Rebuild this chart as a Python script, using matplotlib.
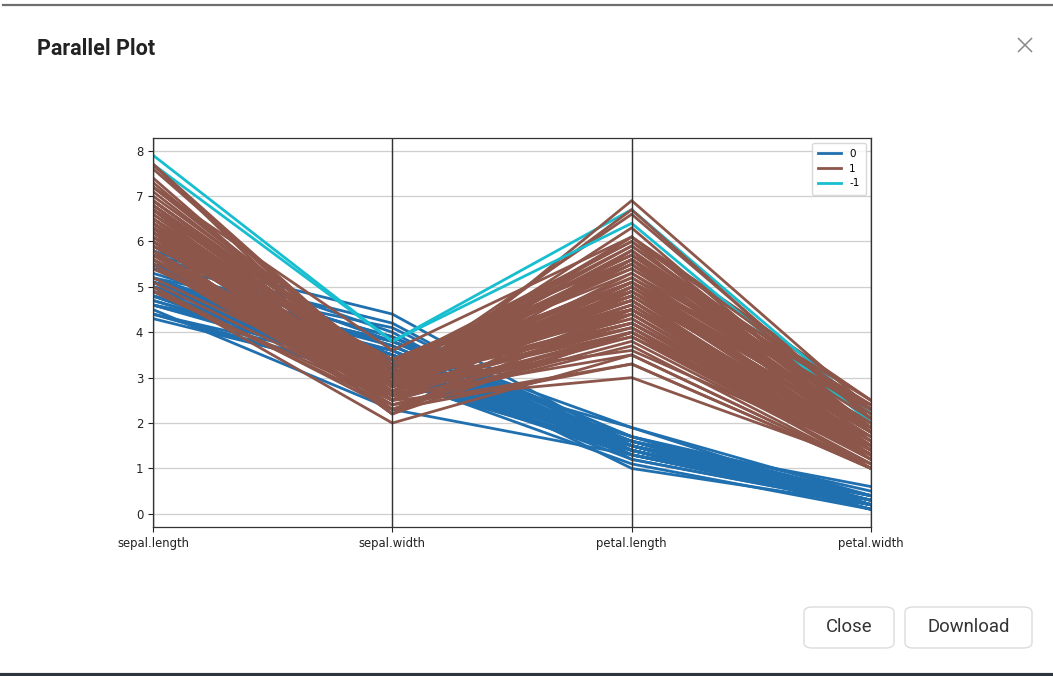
import matplotlib
matplotlib.use("Agg")
import matplotlib.pyplot as plt
from matplotlib.patches import FancyBboxPatch
from matplotlib.lines import Line2D
import pandas as pd
from pandas.plotting import parallel_coordinates

# Iris measurements (150 flowers) and the group label assigned to each one
sepal_length = [
    5.1, 4.9, 4.7, 4.6, 5.0, 5.4, 4.6, 5.0, 4.4, 4.9, 5.4, 4.8, 4.8, 4.3, 5.8, 5.7, 5.4, 5.1, 5.7, 5.1,
    5.4, 5.1, 4.6, 5.1, 4.8, 5.0, 5.0, 5.2, 5.2, 4.7, 4.8, 5.4, 5.2, 5.5, 4.9, 5.0, 5.5, 4.9, 4.4, 5.1,
    5.0, 4.5, 4.4, 5.0, 5.1, 4.8, 5.1, 4.6, 5.3, 5.0,
    7.0, 6.4, 6.9, 5.5, 6.5, 5.7, 6.3, 4.9, 6.6, 5.2, 5.0, 5.9, 6.0, 6.1, 5.6, 6.7, 5.6, 5.8, 6.2, 5.6,
    5.9, 6.1, 6.3, 6.1, 6.4, 6.6, 6.8, 6.7, 6.0, 5.7, 5.5, 5.5, 5.8, 6.0, 5.4, 6.0, 6.7, 6.3, 5.6, 5.5,
    5.5, 6.1, 5.8, 5.0, 5.6, 5.7, 5.7, 6.2, 5.1, 5.7,
    6.3, 5.8, 7.1, 6.3, 6.5, 7.6, 4.9, 7.3, 6.7, 7.2, 6.5, 6.4, 6.8, 5.7, 5.8, 6.4, 6.5, 7.7, 7.7, 6.0,
    6.9, 5.6, 7.7, 6.3, 6.7, 7.2, 6.2, 6.1, 6.4, 7.2, 7.4, 7.9, 6.4, 6.3, 6.1, 7.7, 6.3, 6.4, 6.0, 6.9,
    6.7, 6.9, 5.8, 6.8, 6.7, 6.7, 6.3, 6.5, 6.2, 5.9,
]
sepal_width = [
    3.5, 3.0, 3.2, 3.1, 3.6, 3.9, 3.4, 3.4, 2.9, 3.1, 3.7, 3.4, 3.0, 3.0, 4.0, 4.4, 3.9, 3.5, 3.8, 3.8,
    3.4, 3.7, 3.6, 3.3, 3.4, 3.0, 3.4, 3.5, 3.4, 3.2, 3.1, 3.4, 4.1, 4.2, 3.1, 3.2, 3.5, 3.6, 3.0, 3.4,
    3.5, 2.3, 3.2, 3.5, 3.8, 3.0, 3.8, 3.2, 3.7, 3.3,
    3.2, 3.2, 3.1, 2.3, 2.8, 2.8, 3.3, 2.4, 2.9, 2.7, 2.0, 3.0, 2.2, 2.9, 2.9, 3.1, 3.0, 2.7, 2.2, 2.5,
    3.2, 2.8, 2.5, 2.8, 2.9, 3.0, 2.8, 3.0, 2.9, 2.6, 2.4, 2.4, 2.7, 2.7, 3.0, 3.4, 3.1, 2.3, 3.0, 2.5,
    2.6, 3.0, 2.6, 2.3, 2.7, 3.0, 2.9, 2.9, 2.5, 2.8,
    3.3, 2.7, 3.0, 2.9, 3.0, 3.0, 2.5, 2.9, 2.5, 3.6, 3.2, 2.7, 3.0, 2.5, 2.8, 3.2, 3.0, 3.8, 2.6, 2.2,
    3.2, 2.8, 2.8, 2.7, 3.3, 3.2, 2.8, 3.0, 2.8, 3.0, 2.8, 3.8, 2.8, 2.8, 2.6, 3.0, 3.4, 3.1, 3.0, 3.1,
    3.1, 3.1, 2.7, 3.2, 3.3, 3.0, 2.5, 3.0, 3.4, 3.0,
]
petal_length = [
    1.4, 1.4, 1.3, 1.5, 1.4, 1.7, 1.4, 1.5, 1.4, 1.5, 1.5, 1.6, 1.4, 1.1, 1.2, 1.5, 1.3, 1.4, 1.7, 1.5,
    1.7, 1.5, 1.0, 1.7, 1.9, 1.6, 1.6, 1.5, 1.4, 1.6, 1.6, 1.5, 1.5, 1.4, 1.5, 1.2, 1.3, 1.4, 1.3, 1.5,
    1.3, 1.3, 1.3, 1.6, 1.9, 1.4, 1.6, 1.4, 1.5, 1.4,
    4.7, 4.5, 4.9, 4.0, 4.6, 4.5, 4.7, 3.3, 4.6, 3.9, 3.5, 4.2, 4.0, 4.7, 3.6, 4.4, 4.5, 4.1, 4.5, 3.9,
    4.8, 4.0, 4.9, 4.7, 4.3, 4.4, 4.8, 5.0, 4.5, 3.5, 3.8, 3.7, 3.9, 5.1, 4.5, 4.5, 4.7, 4.4, 4.1, 4.0,
    4.4, 4.6, 4.0, 3.3, 4.2, 4.2, 4.2, 4.3, 3.0, 4.1,
    6.0, 5.1, 5.9, 5.6, 5.8, 6.6, 4.5, 6.3, 5.8, 6.1, 5.1, 5.3, 5.5, 5.0, 5.1, 5.3, 5.5, 6.7, 6.9, 5.0,
    5.7, 4.9, 6.7, 4.9, 5.7, 6.0, 4.8, 4.9, 5.6, 5.8, 6.1, 6.4, 5.6, 5.1, 5.6, 6.1, 5.6, 5.5, 4.8, 5.4,
    5.6, 5.1, 5.1, 5.9, 5.7, 5.2, 5.0, 5.2, 5.4, 5.1,
]
petal_width = [
    0.2, 0.2, 0.2, 0.2, 0.2, 0.4, 0.3, 0.2, 0.2, 0.1, 0.2, 0.2, 0.1, 0.1, 0.2, 0.4, 0.4, 0.3, 0.3, 0.3,
    0.2, 0.4, 0.2, 0.5, 0.2, 0.2, 0.4, 0.2, 0.2, 0.2, 0.2, 0.4, 0.1, 0.2, 0.2, 0.2, 0.2, 0.1, 0.2, 0.2,
    0.3, 0.3, 0.2, 0.6, 0.4, 0.3, 0.2, 0.2, 0.2, 0.2,
    1.4, 1.5, 1.5, 1.3, 1.5, 1.3, 1.6, 1.0, 1.3, 1.4, 1.0, 1.5, 1.0, 1.4, 1.3, 1.4, 1.5, 1.0, 1.5, 1.1,
    1.8, 1.3, 1.5, 1.2, 1.3, 1.4, 1.4, 1.7, 1.5, 1.0, 1.1, 1.0, 1.2, 1.6, 1.5, 1.6, 1.5, 1.3, 1.3, 1.3,
    1.2, 1.4, 1.2, 1.0, 1.3, 1.2, 1.3, 1.3, 1.1, 1.3,
    2.5, 1.9, 2.1, 1.8, 2.2, 2.1, 1.7, 1.8, 1.8, 2.5, 2.0, 1.9, 2.1, 2.0, 2.4, 2.3, 1.8, 2.2, 2.3, 1.5,
    2.3, 2.0, 2.0, 1.8, 2.1, 1.8, 1.8, 1.8, 2.1, 1.6, 1.9, 2.0, 2.2, 1.5, 1.4, 2.3, 2.4, 1.8, 1.8, 2.1,
    2.4, 2.3, 1.9, 2.3, 2.5, 2.3, 1.9, 2.0, 2.3, 1.8,
]
labels = [0] * 50 + [1] * 67 + [-1] + [1] * 13 + [-1] + [1] * 18

group_colors = ["#2070b0", "#8c564b", "#17becf"]

df = pd.DataFrame({
    "sepal.length": sepal_length,
    "sepal.width": sepal_width,
    "petal.length": petal_length,
    "petal.width": petal_width,
    "label": labels,
})

W, H = 1053, 676
fig = plt.figure(figsize=(W / 100, H / 100), dpi=100)
fig.patch.set_facecolor("white")


def px_rect(x0, y0, x1, y1):
    return [x0 / W, 1 - y1 / H, (x1 - x0) / W, (y1 - y0) / H]


ax = fig.add_axes(px_rect(153, 137.5, 871, 527))
parallel_coordinates(df, "label", color=group_colors, ax=ax, linewidth=2.0)
# soften the vertical axis rules drawn by pandas
for ln in ax.lines:
    if ln.get_color() == "black":
        ln.set_color("#333333")
ax.set_ylim(-0.29, 8.29)
ax.tick_params(labelsize=8.4, colors="#222222", length=3.5, width=0.8)
for s in ax.spines.values():
    s.set_color("#333333")
    s.set_linewidth(0.9)
ax.grid(True, color="#cfcfcf", linewidth=0.9)
leg = ax.legend(loc="upper right", fontsize=7.5, framealpha=0.8,
                edgecolor="#d0d0d0", handlelength=2.2, borderpad=0.6,
                labelspacing=0.45)
for h in leg.get_lines():
    h.set_linewidth(2)

# dialog chrome: title, close cross, buttons, frame edges
fig.text(37 / W, 1 - 49 / H, "Parallel Plot", fontsize=15.5, fontweight="bold",
         family="Roboto", color="#222222", va="center", ha="left")

cx, cy, r = 1025, 45, 6.5
for dx in (-r, r):
    fig.add_artist(Line2D([(cx - r) / W, (cx + r) / W],
                          [1 - (cy - dx) / H, 1 - (cy + dx) / H],
                          color="#8a8a8a", linewidth=1.1))


def button(x0, y0, x1, y1, text):
    box = FancyBboxPatch((x0 / W, 1 - y1 / H), (x1 - x0) / W, (y1 - y0) / H,
                         boxstyle="round,pad=0,rounding_size=0.008",
                         transform=fig.transFigure, facecolor="white",
                         edgecolor="#dcdcdc", linewidth=1.0)
    fig.add_artist(box)
    fig.text((x0 + x1) / 2 / W, 1 - (y0 + y1) / 2 / H, text, fontsize=13.3,
             family="Roboto", color="#333333", ha="center", va="center")


button(804, 607, 894, 648, "Close")
button(905, 607, 1032, 648, "Download")

fig.add_artist(Line2D([0.003, 1], [1 - 5 / H, 1 - 5 / H], color="#6e6e6e", linewidth=1.6))
fig.add_artist(Line2D([0, 1], [1 - 674.5 / H, 1 - 674.5 / H], color="#2d3640", linewidth=3))

fig.savefig("out.png", dpi=100, facecolor="white")
